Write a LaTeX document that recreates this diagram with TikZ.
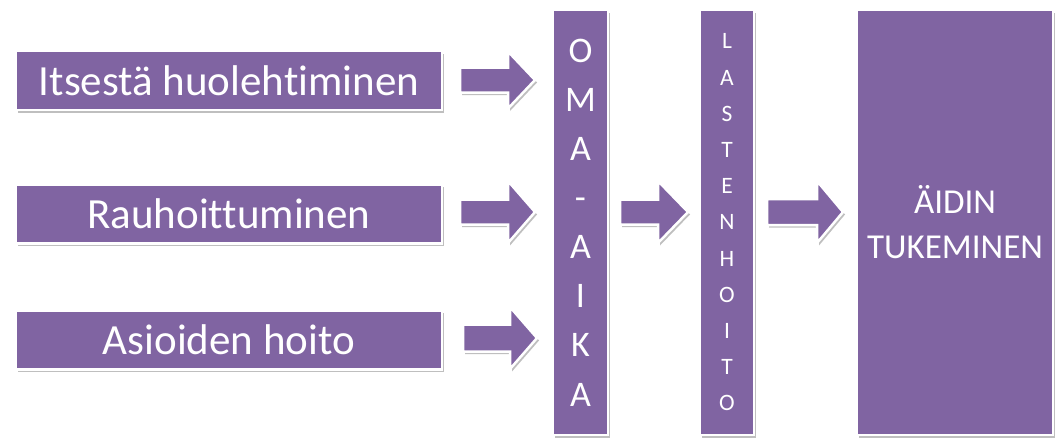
\documentclass[tikz,border=0pt]{standalone}
\usepackage{fontspec}
\setmainfont{Carlito}[Ligatures={NoCommon}]
\usetikzlibrary{shadows}
\definecolor{boxpurple}{HTML}{8064A2}
\tikzset{
  pbox/.style={rectangle, fill=boxpurple, draw=white, line width=2.5pt, text=white,
    inner sep=0pt, drop shadow={shadow xshift=2pt, shadow yshift=-2.5pt, opacity=0.25, fill=black}},
  leftbox/.style={pbox, minimum width=426pt, minimum height=59pt, font=\fontsize{43}{50}\selectfont},
  barbox/.style={pbox, minimum height=425pt, align=center},
  blockarr/.style={fill=boxpurple, draw=white, line width=2.5pt, line join=miter,
    drop shadow={shadow xshift=2pt, shadow yshift=-2.5pt, opacity=0.25, fill=black}}
}
% block arrow: left x, centre y, head base x, tip x, shaft half width, head half width
\newcommand{\blockarrowdraw}[6]{%
  \path[blockarr] (#1,#2-#5) -- (#3,#2-#5) -- (#3,#2-#6) -- (#4,#2) -- (#3,#2+#6)
    -- (#3,#2+#5) -- (#1,#2+#5) -- cycle;}
\begin{document}
\begin{tikzpicture}[x=1pt,y=-1pt]
\useasboundingbox (0,0) rectangle (1056,439);
\node[leftbox] (b1) at (229,80.5) {Itsestä huolehtiminen};
\node[leftbox] (b2) at (229,214) {Rauhoittuminen};
\node[leftbox] (b3) at (229,340) {Asioiden hoito};
\node[barbox, minimum width=55pt, font=\fontsize{36}{49.1}\selectfont] (oma) at (580.5,222.5)
  {O\\M\\A\\-\\A\\I\\K\\A};
\node[barbox, minimum width=54pt, font=\fontsize{23.5}{36.2}\selectfont] (lasten) at (727,222.5)
  {L\\A\\S\\T\\E\\N\\H\\O\\I\\T\\O};
\node[barbox, minimum width=196pt, font=\fontsize{35}{45}\selectfont] (aidin) at (955,222.5)
  {ÄIDIN\\TUKEMINEN};
\blockarrowdraw{460}{80}{508}{535}{12.5}{28.5}
\blockarrowdraw{460}{212}{508}{535}{12.5}{31}
\blockarrowdraw{463}{338}{510}{537}{13.5}{31}
\blockarrowdraw{620}{212}{658}{688}{12.5}{31}
\blockarrowdraw{767}{212}{817}{843}{13}{31}
\end{tikzpicture}
\end{document}
